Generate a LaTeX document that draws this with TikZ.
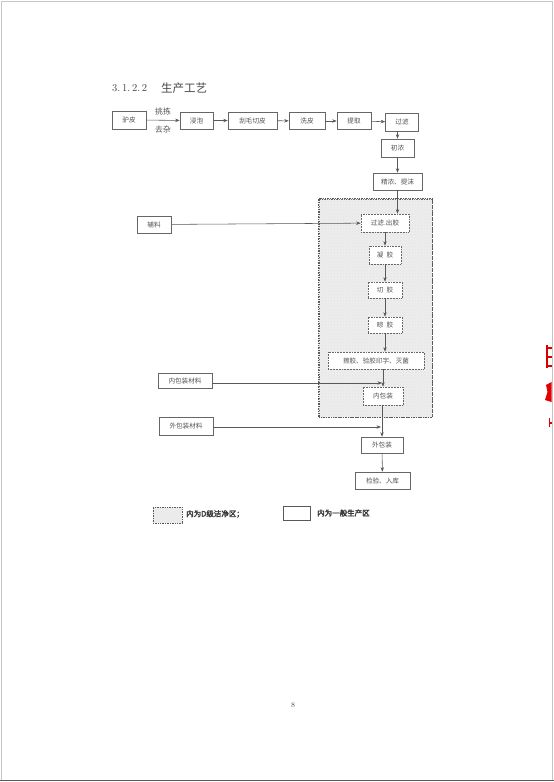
\documentclass[tikz,border=0pt]{standalone}
\usepackage{fontspec}
\newfontfamily\cjk{Noto Sans CJK SC}
\newfontfamily\cjkb[FakeBold=2.5]{Noto Sans CJK SC}
\usetikzlibrary{arrows.meta,patterns}
\begin{document}
\begin{tikzpicture}[x=1pt,y=-1pt,
  box/.style={draw=gray!80!black,line width=0.55pt,fill=white,inner sep=0pt,
    font=\cjk\fontsize{6.6}{7}\selectfont,text=gray!65!black},
  dbox/.style={box,densely dotted,line width=0.7pt},
  arr/.style={-{Stealth[length=4.5pt,width=3.4pt]},draw=gray!70!black,line width=0.55pt},
  lbl/.style={font=\cjk\fontsize{7.8}{8}\selectfont,text=gray!65!black,inner sep=0pt},
  legtxt/.style={font=\cjkb\fontsize{7.5}{8}\selectfont,text=gray!45!black,inner sep=0pt,anchor=west}]
\useasboundingbox (0,0) rectangle (554,782);
\fill[white] (0,0) rectangle (554,782);
% page edges
\draw[gray!45,line width=0.8pt] (1,780) -- (1,1) -- (552,1) -- (552,780);
\draw[gray!70!black,line width=1.6pt] (0,780.5) -- (554,780.5);
% red stamp remnants at right edge
\fill[red!85!black] (546,345) rectangle (548,368);
\fill[red!85!black] (548,347) rectangle (551.5,349);
\fill[red!85!black] (548,356) rectangle (551.5,357.5);
\fill[red!85!black] (548,365) rectangle (551.5,367);
\fill[red!90!black] (546,385) -- (551.5,382) -- (551.5,402) -- (545,400) -- (547.5,392) -- cycle;
\fill[red!85!black] (548.5,418) rectangle (550,427);
\fill[red!85!black] (549,422) rectangle (551.5,423.5);
% heading
\node[anchor=west,inner sep=0pt,font=\fontsize{10.5}{12}\selectfont,text=gray!55!black] (hnum) at (112,88) {3.\,1.\,2.\,2};
\node[anchor=west,inner sep=0pt,font=\cjk\fontsize{11.5}{12}\selectfont,text=gray!55!black] (htxt) at (161,88) {生产工艺};
% clean zone
\node[draw=gray!70!black,densely dotted,line width=0.7pt,fill=gray!14,
  minimum width=113pt,minimum height=218pt,inner sep=0pt] (zone) at (375.5,308) {};
\fill[pattern=crosshatch dots,pattern color=gray!22] (zone.north west) rectangle (zone.south east);
\draw[gray!70!black,densely dotted,line width=0.7pt] (zone.north west) rectangle (zone.south east);
% top row
\node[box,minimum width=34pt,minimum height=18pt] (lp) at (129,120) {驴皮};
\node[box,minimum width=33pt,minimum height=17pt] (jp) at (196.5,120.5) {浸泡};
\node[box,minimum width=49pt,minimum height=17pt] (gm) at (252.5,120.5) {刮毛切皮};
\node[box,minimum width=36pt,minimum height=17pt] (xp) at (307,121) {洗皮};
\node[box,minimum width=34pt,minimum height=17pt] (tq) at (354,121) {提取};
\node[box,minimum width=33pt,minimum height=18pt] (gl) at (402,122) {过滤};
\node[box,minimum width=33pt,minimum height=18pt] (cn) at (397.5,148) {初浓};
\node[box,minimum width=49pt,minimum height=17pt] (jn) at (397.5,181.5) {精浓、提沫};
% inside zone
\node[dbox,minimum width=48pt,minimum height=18pt] (gc) at (385,223) {过滤.出胶};
\node[dbox,minimum width=32pt,minimum height=18pt] (nj) at (385,255) {凝\hspace{3pt}胶};
\node[dbox,minimum width=34pt,minimum height=16pt] (qj) at (385,290) {切\hspace{3pt}胶};
\node[dbox,minimum width=34pt,minimum height=16pt] (lj) at (385,325) {晾\hspace{3pt}胶};
\node[dbox,minimum width=96pt,minimum height=17pt] (cj) at (376,360.5) {擦胶、验胶印字、灭菌};
\node[dbox,minimum width=40pt,minimum height=18pt] (nb) at (383,396) {内包装};
% side inputs
\node[box,minimum width=34pt,minimum height=17pt] (fl) at (154,224.5) {辅料};
\node[box,minimum width=54pt,minimum height=15pt] (nbcl) at (185,380.5) {内包装材料};
\node[box,minimum width=54pt,minimum height=18pt] (wbcl) at (186,426) {外包装材料};
% bottom
\node[box,minimum width=42pt,minimum height=16pt] (wb) at (382,445) {外包装};
\node[box,minimum width=55pt,minimum height=17pt] (jy) at (382.5,480.5) {检验、入库};
% connectors
\draw[arr] (lp) -- node[lbl,above=5pt] (lab1) {挑拣} node[lbl,below=5pt] (lab2) {去杂} (jp);
\draw[arr] (jp) -- (gm);
\draw[arr] (gm) -- (xp);
\draw[arr] (xp) -- (tq);
\draw[arr] (tq) -- (gl);
\draw[arr] (cn.north |- gl.south) -- (cn.north);
\draw[arr] (cn) -- (jn);
\draw[arr] (jn.south) -- (jn.south |- gc.north);
\draw[arr] (fl) -- (gc);
\draw[arr] (gc) -- (nj);
\draw[arr] (nj) -- (qj);
\draw[arr] (qj) -- (lj);
\draw[arr] (lj.south) -- (lj.south |- cj.north);
\draw[arr] (nb.north |- cj.south) -- (nb.north);
\coordinate (nbj) at ([yshift=-2.5pt]nbcl.east -| nb.north);
\draw[arr] ([yshift=-2.5pt]nbcl.east) -- ([xshift=-1pt]nbj);
\draw[arr] (wb.north |- nb.south) -- (wb.north);
\coordinate (wbj) at ([yshift=-1pt]wbcl.east -| wb.north);
\draw[arr] ([yshift=-1pt]wbcl.east) -- ([xshift=-1pt]wbj);
\draw[arr] (wb) -- (jy);
% legend
\node[draw=gray!70!black,densely dotted,line width=0.7pt,fill=gray!16,minimum width=29pt,minimum height=16pt,inner sep=0pt] (leg1) at (167.5,515) {};
\node[legtxt] (leg1t) at (186,514) {内为D级洁净区；};
\node[draw=gray!70!black,line width=0.5pt,fill=white,minimum width=27pt,minimum height=14pt,inner sep=0pt] (leg2) at (296.5,513) {};
\node[legtxt] (leg2t) at (317,513) {内为一般生产区};
% page number
\node[inner sep=0pt,font=\fontsize{7.5}{8}\selectfont,text=gray!55!black] (pg) at (293,705) {8};
\end{tikzpicture}
\end{document}
